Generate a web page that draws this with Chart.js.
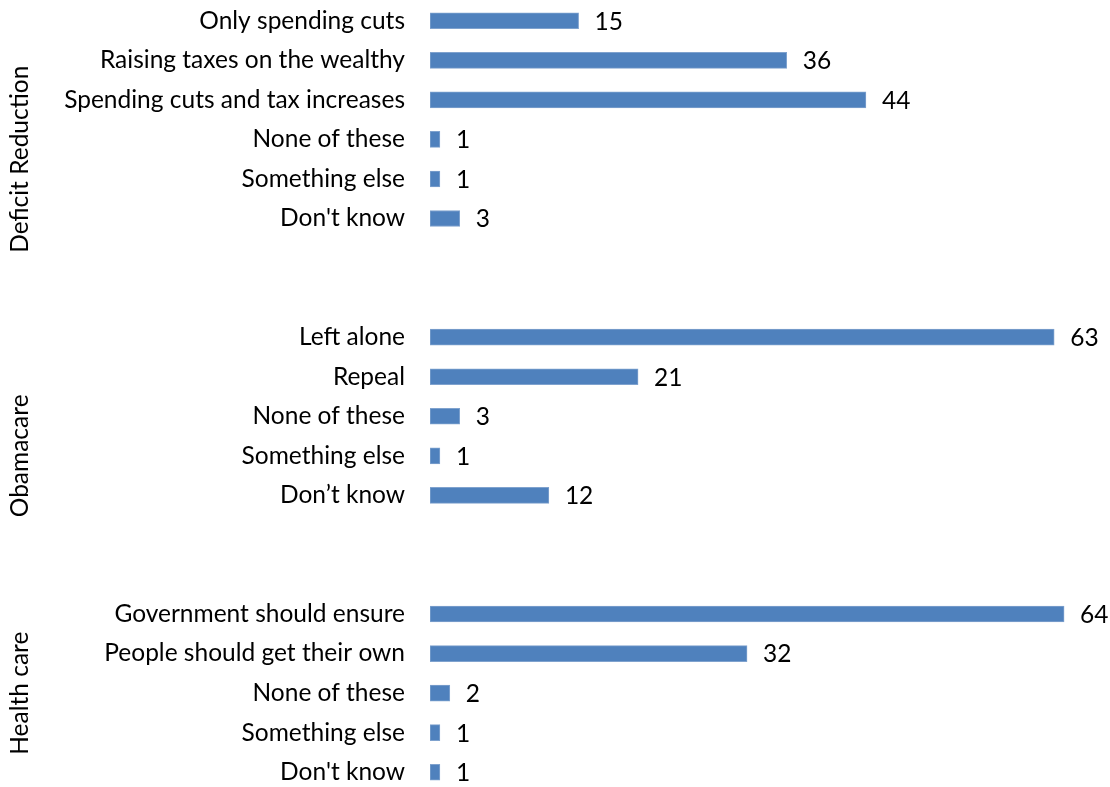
<!DOCTYPE html>
<html>
<head>
<meta charset="utf-8">
<title>Deficit reduction, Obamacare and health care</title>
<script src="https://cdn.jsdelivr.net/npm/chart.js@4/dist/chart.umd.min.js"></script>
<style>
  html, body { margin: 0; padding: 0; background: #ffffff; overflow: hidden; }
  #wrap { width: 1110px; height: 787px; overflow: hidden; }
  canvas { display: block; }
</style>
</head>
<body>
<div id="wrap"><canvas id="chart" width="1110" height="792"></canvas></div>
<script>
// Survey topics and their answer options (percent of respondents)
const groupNames = ['Deficit Reduction', 'Obamacare', 'Health care'];

const deficitLabels = ['Only spending cuts', 'Raising taxes on the wealthy', 'Spending cuts and tax increases', 'None of these', 'Something else', "Don't know"];
const deficitValues = [15, 36, 44, 1, 1, 3];

const obamacareLabels = ['Left alone', 'Repeal', 'None of these', 'Something else', 'Don\u2019t know'];
const obamacareValues = [63, 21, 3, 1, 12];

const healthLabels = ['Government should ensure', 'People should get their own', 'None of these', 'Something else', "Don't know"];
const healthValues = [64, 32, 2, 1, 1];

// Two empty rows separate one topic from the next
const GAP_ROWS = 2;

const groupLabelSets = [deficitLabels, obamacareLabels, healthLabels];
const groupValueSets = [deficitValues, obamacareValues, healthValues];

const categories = [];
const values = [];
const groupSpans = []; // [firstIndex, lastIndex] of slots covered by each topic label
groupLabelSets.forEach((labels, g) => {
  const start = categories.length;
  labels.forEach((l, i) => { categories.push(l); values.push(groupValueSets[g][i]); });
  if (g < groupLabelSets.length - 1) {
    for (let k = 0; k < GAP_ROWS; k++) { categories.push(''); values.push(null); }
  }
  groupSpans.push([start, categories.length - 1]);
});

const FONT_FAMILY = 'Lato, "Open Sans", sans-serif';
const FONT_SIZE = 24.5;
const BAR_COLOR = '#4F81BD';

// Value printed to the right of each bar
const valueLabels = {
  id: 'valueLabels',
  afterDatasetsDraw(chart) {
    const ctx = chart.ctx;
    const meta = chart.getDatasetMeta(0);
    ctx.save();
    ctx.font = FONT_SIZE + 'px ' + FONT_FAMILY;
    ctx.fillStyle = '#000000';
    ctx.textAlign = 'left';
    ctx.textBaseline = 'middle';
    meta.data.forEach((bar, i) => {
      const v = chart.data.datasets[0].data[i];
      if (v === null || v === undefined) return;
      ctx.fillText(String(v), bar.x + 16, bar.y + 1);
    });
    ctx.restore();
  }
};

// Rotated topic names to the left of the answer labels
const groupTitles = {
  id: 'groupTitles',
  afterDraw(chart) {
    const ctx = chart.ctx;
    const y = chart.scales.y;
    ctx.save();
    ctx.font = FONT_SIZE + 'px ' + FONT_FAMILY;
    ctx.fillStyle = '#000000';
    ctx.textAlign = 'center';
    ctx.textBaseline = 'middle';
    groupSpans.forEach((span, g) => {
      const mid = (y.getPixelForValue(span[0]) + y.getPixelForValue(span[1])) / 2;
      ctx.save();
      ctx.translate(20, mid);
      ctx.rotate(-Math.PI / 2);
      ctx.fillText(groupNames[g], 0, 0);
      ctx.restore();
    });
    ctx.restore();
  }
};

new Chart(document.getElementById('chart'), {
  type: 'bar',
  data: {
    labels: categories,
    datasets: [{
      data: values,
      backgroundColor: BAR_COLOR,
      borderColor: '#7FA2CE',
      borderWidth: 1,
      borderSkipped: false,
      barThickness: 16
    }]
  },
  options: {
    indexAxis: 'y',
    responsive: false,
    animation: false,
    events: [],
    layout: { padding: { top: 1, bottom: 0, left: 0, right: 36 } },
    plugins: {
      legend: { display: false },
      tooltip: { enabled: false },
      title: { display: false }
    },
    scales: {
      x: {
        display: false,
        min: 0,
        max: 65
      },
      y: {
        grid: { display: false, drawTicks: false },
        border: { display: false },
        afterFit(scale) {
          scale.width = 430;
          scale.paddingTop = 0;
          scale.paddingBottom = 0;
        },
        ticks: {
          autoSkip: false,
          padding: 25,
          color: '#000000',
          font: { family: FONT_FAMILY, size: FONT_SIZE }
        }
      }
    }
  },
  plugins: [valueLabels, groupTitles]
});
</script>
</body>
</html>
